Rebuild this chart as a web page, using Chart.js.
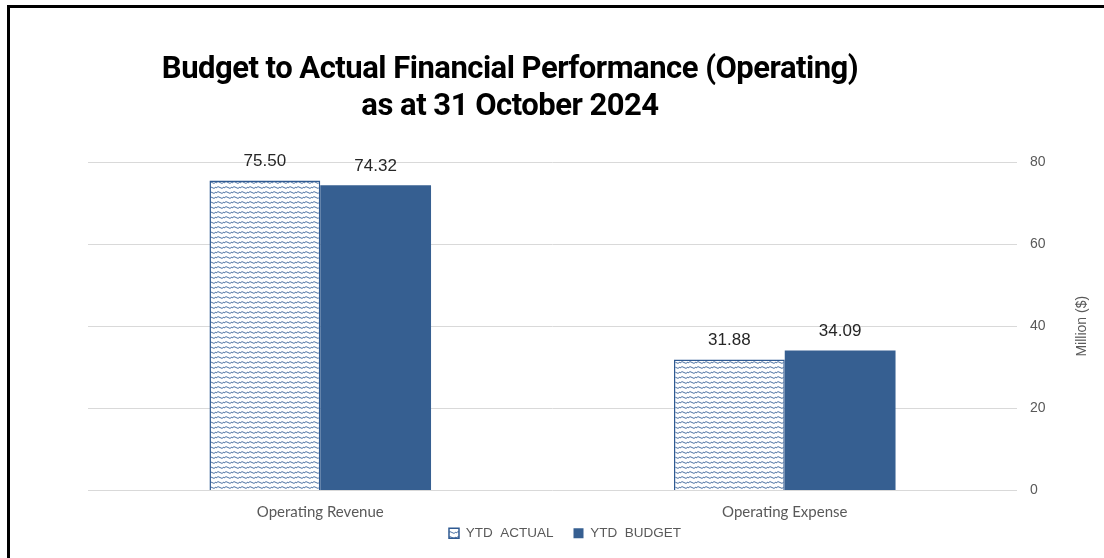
<!DOCTYPE html>
<html>
<head>
<meta charset="utf-8">
<script src="https://cdn.jsdelivr.net/npm/chart.js@4.4.1/dist/chart.umd.min.js"></script>
<style>
    body { margin: 0; background: #fff; }
    .frame {
        position: absolute;
        left: 7px;
        top: 5px;
        width: 1097px;
        height: 553px;
        border-left: 3px solid #000;
        border-top: 3px solid #000;
    }
    .title {
        position: absolute;
        left: 0;
        width: 1020px;
        top: 49px;
        text-align: center;
        font-family: Roboto, "Liberation Sans", sans-serif;
        font-weight: bold;
        font-size: 31px;
        line-height: 37px;
        color: #000;
        letter-spacing: -0.5px;
    }
    canvas { position: absolute; left: 0; top: 0; }
</style>
</head>
<body>
<div class="frame"></div>
<canvas id="budgetChart" width="1104" height="558"></canvas>
<div class="title">Budget to Actual Financial Performance (Operating)<br>as at 31 October 2024</div>

<script>
// Chart data
const categories = ['Operating Revenue', 'Operating Expense'];
const ytdActual = [75.50, 31.88];
const ytdBudget = [74.32, 34.09];
const yTicks = [0, 20, 40, 60, 80];
const yAxisTitle = 'Million ($)';

document.addEventListener('DOMContentLoaded', function() {
    initializeChart();
});

// Wavy dotted fill used by Excel for the actual series
function makeWavePattern() {
    const tile = document.createElement('canvas');
    tile.width = 8;
    tile.height = 5;
    const t = tile.getContext('2d');
    t.fillStyle = '#ffffff';
    t.fillRect(0, 0, 8, 5);
    t.strokeStyle = '#3a639a';
    t.lineWidth = 0.9;
    t.beginPath();
    t.moveTo(0, 3);
    t.quadraticCurveTo(2, 0.5, 4, 2.5);
    t.quadraticCurveTo(6, 4.5, 8, 2);
    t.stroke();
    return t.createPattern(tile, 'repeat');
}

// Value labels above each bar
const valueLabels = {
    id: 'valueLabels',
    afterDatasetsDraw(chart) {
        const ctx = chart.ctx;
        ctx.save();
        ctx.font = '17px "Liberation Sans", Arial, sans-serif';
        ctx.fillStyle = '#262626';
        ctx.textAlign = 'center';
        ctx.textBaseline = 'middle';
        chart.data.datasets.forEach(function(ds, i) {
            chart.getDatasetMeta(i).data.forEach(function(bar, j) {
                ctx.fillText(ds.data[j].toFixed(2), bar.x, bar.y - 19);
            });
        });
        ctx.restore();
    }
};

// Axis title on the right, reading bottom to top like Excel
const rightAxisTitle = {
    id: 'rightAxisTitle',
    afterDraw(chart) {
        const ctx = chart.ctx;
        const area = chart.chartArea;
        ctx.save();
        ctx.translate(1082, (area.top + area.bottom) / 2);
        ctx.rotate(-Math.PI / 2);
        ctx.font = '14px "Liberation Sans", Arial, sans-serif';
        ctx.fillStyle = '#595959';
        ctx.textAlign = 'center';
        ctx.textBaseline = 'middle';
        ctx.fillText(yAxisTitle, 0, 0);
        ctx.restore();
    }
};

// Pull the legend up closer to the category labels
const legendNudge = {
    id: 'legendNudge',
    afterLayout(chart) {
        if (chart.legend) {
            chart.legend.top -= 28;
            chart.legend.bottom -= 28;
        }
    }
};

function initializeChart() {
    const ctx = document.getElementById('budgetChart').getContext('2d');
    const wave = makeWavePattern();

    new Chart(ctx, {
        type: 'bar',
        data: {
            labels: categories,
            datasets: [{
                label: 'YTD  ACTUAL',
                data: ytdActual,
                xAxisID: 'x',
                yAxisID: 'y',
                backgroundColor: wave,
                borderColor: '#2f5a92',
                borderWidth: 1.5,
                borderSkipped: 'bottom'
            }, {
                label: 'YTD  BUDGET',
                data: ytdBudget,
                xAxisID: 'x',
                yAxisID: 'y',
                backgroundColor: '#365f91',
                borderWidth: 0
            }]
        },
        options: {
            responsive: false,
            animation: false,
            layout: {
                padding: { top: 162, left: 34, right: 8, bottom: -20 }
            },
            datasets: {
                bar: { barPercentage: 1, categoryPercentage: 0.477 }
            },
            plugins: {
                title: { display: false },
                tooltip: { enabled: false },
                legend: {
                    position: 'bottom',
                    labels: {
                        boxWidth: 10,
                        boxHeight: 10,
                        padding: 20,
                        color: '#595959',
                        font: { family: '"Liberation Sans", Arial, sans-serif', size: 13.5 }
                    }
                }
            },
            scales: {
                x: {
                    grid: { display: false, drawTicks: false },
                    border: { display: false },
                    ticks: {
                        color: '#595959',
                        padding: 13,
                        font: { family: 'Lato, "Open Sans", sans-serif', size: 15 }
                    }
                },
                // spacer on the left so the legend sits where Excel put it
                yLeft: {
                    position: 'left',
                    min: 0,
                    max: 1,
                    grid: { display: false, drawTicks: false },
                    border: { display: false },
                    ticks: { display: false },
                    afterFit: function(axis) { axis.width = 54; }
                },
                y: {
                    position: 'right',
                    min: yTicks[0],
                    max: yTicks[yTicks.length - 1],
                    afterBuildTicks: function(axis) {
                        axis.ticks = yTicks.map(function(v) { return { value: v }; });
                    },
                    afterFit: function(axis) { axis.width = 79; },
                    grid: { color: '#d9d9d9', lineWidth: 1, drawTicks: false },
                    border: { display: false },
                    ticks: {
                        color: '#595959',
                        padding: 13,
                        font: { family: '"Liberation Sans", Arial, sans-serif', size: 14 }
                    }
                }
            }
        },
        plugins: [valueLabels, rightAxisTitle, legendNudge]
    });
}
</script>
</body>
</html>
